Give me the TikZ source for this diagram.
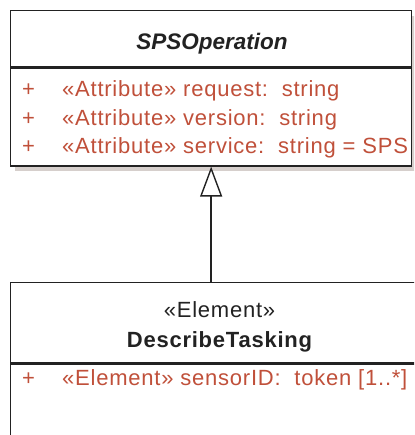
\documentclass[tikz,border=0pt]{standalone}
\usepackage{fontspec}
\setmainfont{Liberation Sans}
\newfontfamily\umlfont[LetterSpace=3.5]{Liberation Sans}
\usetikzlibrary{arrows.meta}
\definecolor{attrred}{RGB}{192,80,58}
\definecolor{shadowgray}{RGB}{214,207,204}
\definecolor{linegray}{RGB}{34,34,34}

\begin{document}
\begin{tikzpicture}[x=1pt,y=-1pt]
\tikzset{classbox/.style={draw=linegray, line width=1.3pt, fill=white, inner sep=0pt, anchor=north west},
  attr/.style={anchor=base west, inner sep=0pt, text=attrred, font=\umlfont\fontsize{22}{26}\selectfont},
  title/.style={anchor=base, inner sep=0pt, text=linegray, font=\umlfont\fontsize{22}{26}\selectfont}}
\useasboundingbox (0,0) rectangle (414,435);
\clip (0,0) rectangle (414,435);
% operation class
\fill[shadowgray] (15,16) rectangle (416,171);
\node[classbox, minimum width=401pt, minimum height=56pt] (SPSOp) at (10,10) {};
\node[classbox, minimum width=401pt, minimum height=98pt] (SPSOpAttr) at (SPSOp.south west) {};
\node[title, font=\fontsize{22.5}{26}\selectfont\bfseries\itshape] (SPSOpName) at (212,49.5) {SPSOperation};
\foreach \y/\txt in {97/{request:\ \ string}, 125.5/{version:\ \ string}, 154/{service:\ \ string = SPS}} {
  \node[attr] at (22,\y) {+};
  \node[attr] at (62,\y) {«Attribute» \txt};
}
% element class
\node[classbox, minimum width=410pt, minimum height=80pt] (DescTask) at (10,282) {};
\node[classbox, minimum width=410pt, minimum height=90pt] (DescTaskAttr) at (DescTask.south west) {};
\node[title] (DescTaskStereo) at (219.5,317) {«Element»};
\node[title, font=\umlfont\fontsize{22}{26}\selectfont\bfseries] (DescTaskName) at (219.5,347) {DescribeTasking};
\node[attr] (DescTaskPlus) at (22,385) {+};
\node[attr] (DescTaskSensor) at (62,385) {«Element» sensorID:\ \ token [1..*]};
% generalization
\draw[linegray, line width=1.5pt, -{Triangle[open, width=22pt, length=30pt, line width=1.4pt]}] (DescTask.north west -| SPSOpAttr.south) -- (SPSOpAttr.south);
\end{tikzpicture}
\end{document}
